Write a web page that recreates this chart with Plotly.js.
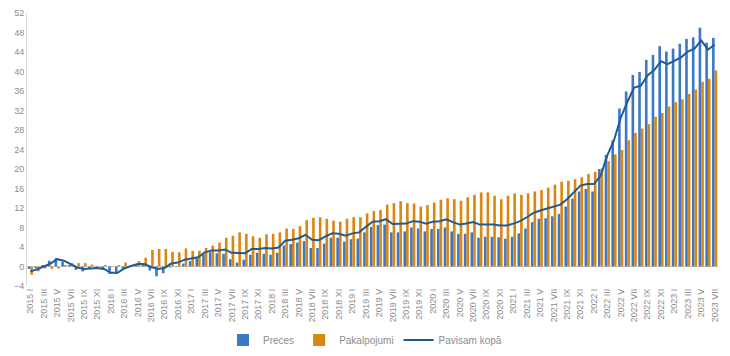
<!DOCTYPE html>
<html>
<head>
<meta charset="utf-8">
<script src="https://cdn.plot.ly/plotly-3.0.1.min.js"></script>
<style>html,body{margin:0;padding:0;background:#fff;}#chart{width:730px;height:356px;}</style>
</head>
<body>
<div id="chart"></div>
<script>
const years = [2015, 2016, 2017, 2018, 2019, 2020, 2021, 2022, 2023];
const romanMonths = ["I","II","III","IV","V","VI","VII","VIII","IX","X","XI","XII"];
const lastYearMonths = 7;

const preces = [
 -0.5,-0.4,0.3,1.2,1.7,1.0,0.3,-0.7,-1.0,-0.4,-0.3,-0.6,
 -1.5,-1.5,-0.5,0.1,0.5,0.3,-0.8,-2.0,-1.4,-0.2,0.1,0.6,
 1.1,1.7,2.5,3.0,2.7,2.6,1.5,0.8,1.4,2.4,2.8,2.6,
 2.4,2.8,4.3,4.6,4.9,5.2,3.8,3.8,4.7,5.9,5.9,5.1,
 5.6,5.7,7.0,8.1,8.5,8.6,7.0,7.0,7.2,8.0,7.8,7.2,
 7.7,7.7,8.0,7.2,6.7,6.7,7.0,5.9,6.1,6.1,6.0,5.7,
 6.1,6.8,7.8,9.1,9.8,9.9,10.3,10.8,12.3,13.9,15.4,15.9,
 15.4,20.0,22.9,25.9,32.4,35.9,39.3,39.9,42.4,43.4,45.2,44.1,
 44.7,45.7,46.7,47.0,49.0,45.9,46.9
];
const pakalpojumi = [
 -1.7,-1.0,-0.4,-0.5,-0.4,0.3,0.7,0.7,0.7,0.4,0.1,0.3,
 0.1,0.3,0.8,0.3,1.1,1.8,3.4,3.6,3.6,3.0,2.9,3.7,
 3.2,3.2,3.8,4.3,4.9,5.9,6.3,7.0,6.7,6.2,5.9,6.6,
 6.7,7.0,7.8,7.7,8.3,9.5,10.0,10.1,9.8,9.4,9.2,9.8,
 10.1,10.1,10.9,11.4,11.6,12.7,13.0,13.4,13.0,12.9,12.3,12.6,
 13.1,13.7,14.0,13.8,13.5,14.2,14.7,15.2,15.2,14.5,13.8,14.5,
 15.0,14.7,15.0,15.4,15.7,16.2,16.8,17.4,17.6,17.9,18.3,19.0,
 19.4,20.1,21.6,23.0,23.9,25.9,27.4,28.3,29.2,30.7,31.5,32.8,
 33.7,34.3,35.4,36.3,37.9,38.5,40.2
];
const pavisamKopa = [
 -1.0,-0.6,0.0,0.6,1.5,1.2,0.5,-0.2,-0.5,-0.4,-0.3,-0.5,
 -1.3,-1.3,-0.4,0.1,0.5,0.5,-0.1,-0.5,-0.3,0.6,0.8,1.4,
 1.6,1.9,2.9,3.3,3.3,3.5,2.8,2.7,2.7,3.6,3.6,3.8,
 3.7,3.9,5.3,5.5,5.8,6.5,5.5,5.4,6.2,6.8,6.7,6.3,
 6.8,7.0,8.1,9.2,9.3,9.7,8.7,8.8,8.8,9.3,9.2,8.8,
 9.2,9.3,9.7,9.1,8.6,8.8,9.1,8.6,8.6,8.6,8.4,8.4,
 8.8,9.3,10.1,11.0,11.5,11.9,12.3,12.7,13.8,15.2,16.6,16.9,
 16.9,18.6,22.8,25.9,30.5,33.8,36.7,37.1,39.2,40.3,42.1,41.5,
 42.2,42.9,44.1,44.7,46.4,44.5,45.5
];

const categories = [];
years.forEach((y, yi) => {
  const n = (yi === years.length - 1) ? lastYearMonths : 12;
  for (let m = 0; m < n; m++) categories.push(y + " " + romanMonths[m]);
});
const tickLabels = categories.filter((c, i) => i % 2 === 0);

const traces = [
  {type:'bar', name:'Preces', x:categories, y:preces, marker:{color:'#3C78C8'}},
  {type:'bar', name:'Pakalpojumi', x:categories, y:pakalpojumi, marker:{color:'#DB860F'}},
  {type:'scatter', mode:'lines', name:'Pavisam kopā', x:categories, y:pavisamKopa,
   line:{color:'#1F5C94', width:2}}
];

const layout = {
  width:730, height:356,
  margin:{l:27, r:12, t:13, b:70},
  paper_bgcolor:'#fff', plot_bgcolor:'#fff',
  font:{family:'"Liberation Sans", Arial, sans-serif', size:9, color:'#8c8c8c'},
  barmode:'group', bargap:0.22, bargroupgap:0,
  showlegend:true,
  legend:{orientation:'h', x:0.5, xref:'container', xanchor:'center',
          y:0.045, yref:'container', yanchor:'middle',
          font:{size:10, color:'#8c8c8c'}, itemwidth:30, traceorder:'normal'},
  xaxis:{type:'category', tickmode:'array', tickvals:tickLabels, ticktext:tickLabels,
         tickangle:-90, showgrid:false, showline:false, zeroline:false, ticks:'',
         tickfont:{size:9, color:'#8c8c8c'}, automargin:false},
  yaxis:{range:[-4,52], dtick:4, tick0:0, showgrid:false, showline:true, linecolor:'#d9d9d9',
         zeroline:true, zerolinecolor:'#d0d0d0', zerolinewidth:1, ticks:'',
         tickfont:{size:9, color:'#8c8c8c'}, automargin:false}
};

Plotly.newPlot('chart', traces, layout, {displayModeBar:false, staticPlot:true});
</script>
</body>
</html>
